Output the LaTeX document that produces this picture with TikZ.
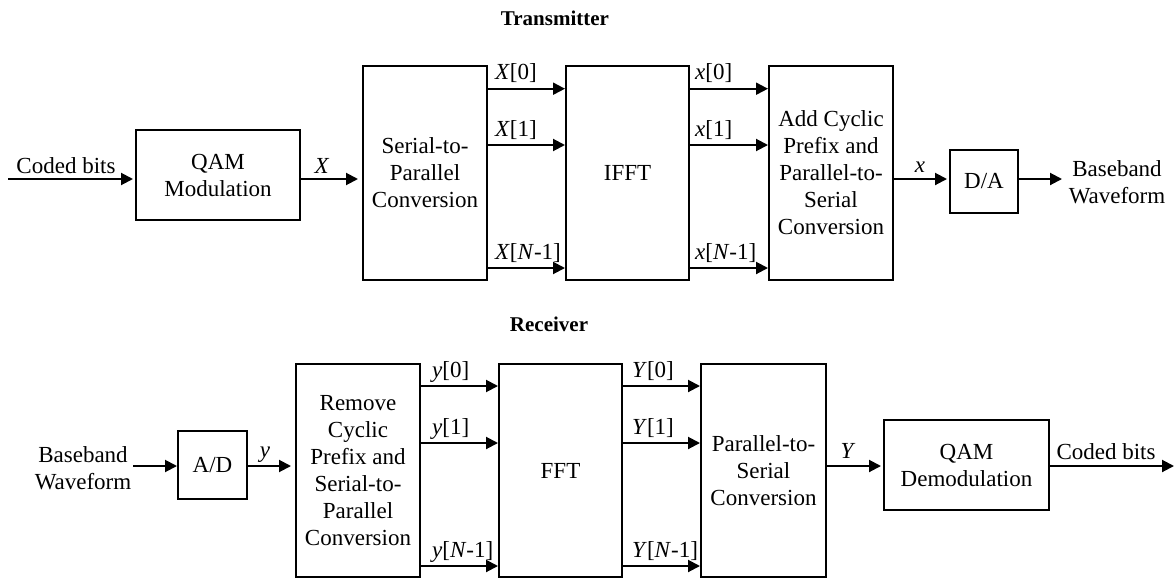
\documentclass[tikz,border=0pt]{standalone}
\usepackage{fontspec}
\setmainfont{Liberation Serif}
\usetikzlibrary{arrows.meta}
\begin{document}
\begin{tikzpicture}[x=1pt,y=-1pt,
  every node/.style={font=\fontsize{23pt}{27pt}\selectfont, inner sep=0pt},
  blk/.style={draw, line width=2pt, align=center},
  conn/.style={-{Triangle[length=12pt,width=12pt]}, line width=2pt},
  lbl/.style={anchor=base},
  plbl/.style={anchor=base west},
  ttl/.style={anchor=base, font=\fontsize{21pt}{25pt}\selectfont\bfseries}]
\useasboundingbox (0,0) rectangle (1174,578);
% ---------- Transmitter ----------
\node[ttl] (tx) at (555,26) {Transmitter};
\node[blk, minimum width=164pt, minimum height=90pt] (qam) at (218,175) {QAM\\Modulation};
\node[blk, minimum width=124pt, minimum height=214pt] (sp) at (425,173) {Serial-to-\\Parallel\\Conversion};
\node[blk, minimum width=123pt, minimum height=214pt] (ifft) at (627.5,173) {IFFT};
\node[blk, minimum width=124pt, minimum height=214pt] (acp) at (831,173) {Add Cyclic\\Prefix and\\Parallel-to-\\Serial\\Conversion};
\node[blk, minimum width=68pt, minimum height=63pt] (da) at (984,181.5) {D/A};
\node[align=center] (bbtx) at (1117,182) {Baseband\\Waveform};
\coordinate (txrow) at (0,179);
\coordinate (cbin) at (8,179);
\coordinate (bbout) at (1062,179);
\coordinate (tp0) at (0,88.7);
\coordinate (tp1) at (0,145);
\coordinate (tp2) at (0,268);
\draw[conn, shorten >=2pt] (cbin) -- (qam.west |- cbin);
\node[lbl] (cbl) at (66,173) {Coded bits};
\draw[conn, shorten >=4pt] (qam.east |- txrow) -- (sp.west |- txrow);
\node[lbl] (Xl) at (322,173) {\textit{X}};
\foreach \p in {tp0,tp1,tp2}{
  \draw[conn] (sp.east |- \p) -- (ifft.west |- \p);
  \draw[conn] (ifft.east |- \p) -- (acp.west |- \p);
}
\node[plbl] (X0) at (495,79.7) {\textit{X}[0]};
\node[plbl] (X1) at (495,136) {\textit{X}[1]};
\node[plbl] (X2) at (495,259) {\textit{X}[\textit{N}-1]};
\node[plbl] (x0) at (695,79.7) {\textit{x}[0]};
\node[plbl] (x1) at (695,136) {\textit{x}[1]};
\node[plbl] (x2) at (695,259) {\textit{x}[\textit{N}-1]};
\draw[conn, shorten >=2pt] (acp.east |- txrow) -- (da.west |- txrow);
\node[lbl] (xl) at (920,172) {\textit{x}};
\draw[conn] (da.east |- txrow) -- (bbout);
% ---------- Receiver ----------
\node[ttl] (rx) at (549,331) {Receiver};
\node[align=center] (bbrx) at (83,468) {Baseband\\Waveform};
\node[blk, minimum width=69pt, minimum height=68pt] (ad) at (212.5,465) {A/D};
\node[blk, minimum width=124pt, minimum height=213pt] (rcp) at (358,470.5) {Remove\\Cyclic\\Prefix and\\Serial-to-\\Parallel\\Conversion};
\node[blk, minimum width=123pt, minimum height=213pt] (fft) at (560.5,470.5) {FFT};
\node[blk, minimum width=125pt, minimum height=213pt] (ps) at (763.5,470.5) {Parallel-to-\\Serial\\Conversion};
\node[blk, minimum width=165pt, minimum height=90pt] (qamd) at (966.5,465) {QAM\\Demodulation};
\coordinate (rxrow) at (0,466);
\coordinate (adin) at (133,466);
\coordinate (cbout) at (1174,466);
\coordinate (rp0) at (0,386);
\coordinate (rp1) at (0,443);
\coordinate (rp2) at (0,566);
\draw[conn] (adin) -- (ad.west |- adin);
\draw[conn, shorten >=4pt] (ad.east |- rxrow) -- (rcp.west |- rxrow);
\node[lbl] (yl) at (265,457) {\textit{y}};
\foreach \p in {rp0,rp1,rp2}{
  \draw[conn] (rcp.east |- \p) -- (fft.west |- \p);
  \draw[conn] (fft.east |- \p) -- (ps.west |- \p);
}
\node[plbl] (y0) at (432,377) {\textit{y}[0]};
\node[plbl] (y1) at (432,434) {\textit{y}[1]};
\node[plbl] (y2) at (432,557) {\textit{y}[\textit{N}-1]};
\node[plbl] (Y0) at (632,377) {\textit{Y}[0]};
\node[plbl] (Y1) at (632,434) {\textit{Y}[1]};
\node[plbl] (Y2) at (632,557) {\textit{Y}[\textit{N}-1]};
\draw[conn, shorten >=2pt] (ps.east |- rxrow) -- (qamd.west |- rxrow);
\node[lbl] (Yl) at (848,458) {\textit{Y}};
\draw[conn] (qamd.east |- rxrow) -- (cbout);
\node[lbl] (cbr) at (1106,459) {Coded bits};
\end{tikzpicture}
\end{document}
